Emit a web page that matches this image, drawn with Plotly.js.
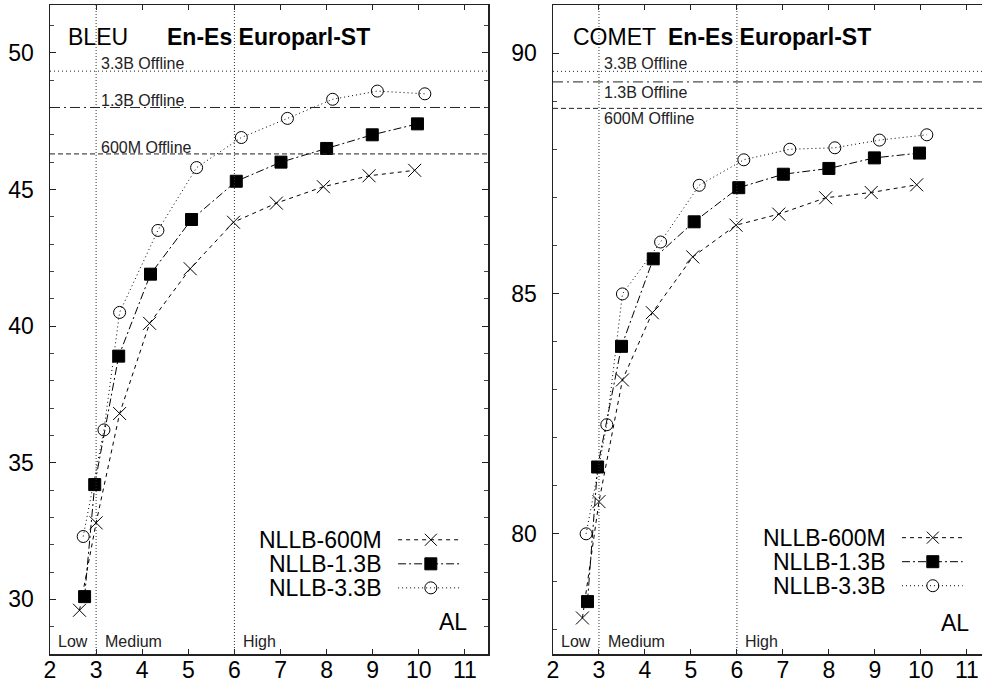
<!DOCTYPE html>
<html>
<head>
<meta charset="utf-8">
<script src="https://cdn.plot.ly/plotly-3.0.1.min.js"></script>
<style>html,body{margin:0;padding:0;background:#fff;}#chart{width:982px;height:693px;}</style>
</head>
<body>
<div id="chart"></div>
<script>
// ---------- data ----------
const seriesNames = ['NLLB-600M', 'NLLB-1.3B', 'NLLB-3.3B'];
// AL (average lagging) per model
const al600 = [2.64, 3.0, 3.51, 4.16, 5.04, 5.98, 6.91, 7.93, 8.92, 9.91];
const al13  = [2.75, 2.97, 3.49, 4.18, 5.07, 6.04, 7.01, 8.0, 8.99, 9.97];
const al33  = [2.72, 3.17, 3.51, 4.34, 5.18, 6.15, 7.15, 8.13, 9.1, 10.13];
// BLEU
const bleu600 = [29.6, 32.8, 36.8, 40.1, 42.1, 43.8, 44.5, 45.1, 45.5, 45.7];
const bleu13  = [30.1, 34.2, 38.9, 41.9, 43.9, 45.3, 46.0, 46.5, 47.0, 47.4];
const bleu33  = [32.3, 36.2, 40.5, 43.5, 45.8, 46.9, 47.6, 48.3, 48.6, 48.5];
// COMET
const comet600 = [78.25, 80.67, 83.2, 84.6, 85.76, 86.42, 86.65, 86.99, 87.1, 87.26];
const comet13  = [78.59, 81.39, 83.9, 85.72, 86.49, 87.2, 87.48, 87.6, 87.82, 87.92];
const comet33  = [80.0, 82.27, 84.99, 86.07, 87.25, 87.78, 88.0, 88.03, 88.19, 88.3];
// Offline references [600M, 1.3B, 3.3B]
const offlineLabels = ['600M Offline', '1.3B Offline', '3.3B Offline'];
const bleuOffline  = [46.3, 48.0, 49.33];
const cometOffline = [88.85, 89.4, 89.62];
// latency regimes
const regimeBounds = [3, 6];
const regimeLabels = ['Low', 'Medium', 'High'];
const xTicks = [2, 3, 4, 5, 6, 7, 8, 9, 10, 11];
const bleuTicks = [30, 35, 40, 45, 50];
const cometTicks = [80, 85, 90];

// ---------- styles ----------
const FONT = 'Liberation Sans, Arial, Helvetica, sans-serif';
const BIG = 23, SMALL = 16;
const dashes = ['4px,4px', '8px,3px,2px,3px', '1px,3px'];
const offDashes = ['5px,3px', '10px,4px,2px,4px', '1px,3px'];
const markerSyms = ['x-thin-open', 'square', 'circle-open'];
const markerSizes = [13, 12, 12];

function seriesTraces(xs, ys, xa, ya) {
  return ys.map((y, i) => ({
    type: 'scatter', mode: 'lines+markers', name: seriesNames[i],
    x: xs[i], y: y, xaxis: xa, yaxis: ya, showlegend: false, cliponaxis: false,
    line: {color: '#000', width: 1, dash: dashes[i]},
    marker: {symbol: markerSyms[i], size: markerSizes[i], color: '#000',
             line: {color: '#000', width: 1}}
  }));
}

const traces = [].concat(
  seriesTraces([al600, al13, al33], [bleu600, bleu13, bleu33], 'x', 'y'),
  seriesTraces([al600, al13, al33], [comet600, comet13, comet33], 'x2', 'y2')
);

function axisX(domain, range, anchor) {
  return {
    domain: domain, range: range, anchor: anchor,
    tickvals: xTicks, ticks: 'inside', ticklen: 5, tickwidth: 1, tickcolor: '#222',
    showline: true, linecolor: '#222', linewidth: 1.5, mirror: 'ticks',
    showgrid: false, zeroline: false, ticklabelstandoff: -5,
    tickfont: {family: FONT, size: BIG, color: '#000'}
  };
}
function axisY(range, tickvals, anchor, mirror) {
  return {
    range: range, anchor: anchor, tickvals: tickvals,
    ticks: 'inside', ticklen: 6, tickwidth: 1, tickcolor: '#222',
    minor: {dtick: 1, ticks: 'inside', ticklen: 4, tickwidth: 1, tickcolor: '#444', showgrid: false},
    showline: true, linecolor: '#222', linewidth: 1.5, mirror: mirror,
    showgrid: false, zeroline: false, ticklabelstandoff: 10,
    tickfont: {family: FONT, size: BIG, color: '#000'}
  };
}

const shapes = [];
const annotations = [];

function panelDecor(xa, ya, offline, legendX, legendY, textX, metric, titleX, titleBoldX, titleY,
                    offLabelX, offLabelY, regimeX, regimeY, alX, alY) {
  const xr = xa;
  const yr = ya;
  // regime lines
  regimeBounds.forEach(b => shapes.push({type: 'line', xref: xr, yref: yr + ' domain',
    x0: b, x1: b, y0: 0, y1: 1, line: {color: '#333', width: 1, dash: '1px,2px'}}));
  // offline lines
  offline.forEach((v, i) => shapes.push({type: 'line', xref: xr + ' domain', yref: yr,
    x0: 0, x1: 1, y0: v, y1: v, line: {color: '#222', width: 1, dash: offDashes[i]}}));
  offlineLabels.forEach((t, i) => annotations.push({xref: xr, yref: yr, x: offLabelX, y: offLabelY[i],
    text: t, showarrow: false, xanchor: 'left', yanchor: 'middle', height: 16,
    font: {family: FONT, size: SMALL, color: '#222'}}));
  // title
  annotations.push({xref: xr, yref: yr, x: titleX, y: titleY, text: metric, showarrow: false,
    xanchor: 'left', yanchor: 'middle', font: {family: FONT, size: BIG, color: '#000'}});
  annotations.push({xref: xr, yref: yr, x: titleBoldX, y: titleY, text: '<b>En-Es Europarl-ST</b>',
    showarrow: false, xanchor: 'left', yanchor: 'middle', font: {family: FONT, size: BIG, color: '#000'}});
  // regimes
  regimeLabels.forEach((t, i) => annotations.push({xref: xr, yref: yr, x: regimeX[i], y: regimeY,
    text: t, showarrow: false, xanchor: 'left', yanchor: 'middle',
    font: {family: FONT, size: SMALL, color: '#222'}}));
  // AL
  annotations.push({xref: xr, yref: yr, x: alX, y: alY, text: 'AL', showarrow: false,
    xanchor: 'right', yanchor: 'middle', font: {family: FONT, size: BIG, color: '#000'}});
  // legend
  seriesNames.forEach((n, i) => {
    const ly = legendY[i];
    annotations.push({xref: xr, yref: yr, x: textX, y: ly, text: n, showarrow: false,
      xanchor: 'right', yanchor: 'middle', height: 22, borderpad: 0,
      font: {family: FONT, size: BIG, color: '#000'}});
    shapes.push({type: 'line', xref: xr, yref: yr, x0: legendX[0], x1: legendX[2], y0: ly, y1: ly,
      line: {color: '#000', width: 1, dash: dashes[i]}});
    const base = {xref: xr, yref: yr, xsizemode: 'pixel', ysizemode: 'pixel',
                  xanchor: legendX[1], yanchor: ly};
    if (i === 0) {
      shapes.push(Object.assign({type: 'line', x0: -6, x1: 6, y0: -6, y1: 6, line: {color: '#000', width: 1}}, base));
      shapes.push(Object.assign({type: 'line', x0: -6, x1: 6, y0: 6, y1: -6, line: {color: '#000', width: 1}}, base));
    } else if (i === 1) {
      shapes.push(Object.assign({type: 'rect', x0: -6, x1: 6, y0: -6, y1: 6, fillcolor: '#000',
        line: {color: '#000', width: 1}}, base));
    } else {
      shapes.push(Object.assign({type: 'circle', x0: -6, x1: 6, y0: -6, y1: 6, fillcolor: 'rgba(0,0,0,0)',
        line: {color: '#000', width: 1}}, base));
    }
  });
}

panelDecor('x', 'y', bleuOffline, [9.55, 10.26, 10.94], [32.18, 31.30, 30.42], 9.22,
  'BLEU', 2.35, 4.5, 50.58, 3.06, [46.57, 48.28, 49.64], [2.13, 3.15, 6.14], 28.46, 11.09, 29.16);
panelDecor('x2', 'y2', cometOffline, [9.59, 10.26, 10.91], [79.92, 79.42, 78.92], 9.26,
  'COMET', 2.39, 4.46, 90.33, 3.07, [88.65, 89.19, 89.79], [2.13, 3.15, 6.14], 77.75, 11.09, 78.15);

const layout = {
  width: 982, height: 693, autosize: false,
  margin: {l: 50, r: 0, t: 5, b: 39},
  paper_bgcolor: '#fff', plot_bgcolor: '#fff',
  showlegend: false,
  xaxis: axisX([0, 0.46996], [2, 11.5], 'y'),
  yaxis: axisY([28, 51.75], bleuTicks, 'x', 'ticks'),
  xaxis2: axisX([0.5397, 1], [2, 11.33], 'y2'),
  yaxis2: axisY([77.5, 91], cometTicks, 'x2', false),
  shapes: shapes, annotations: annotations
};

Plotly.newPlot('chart', traces, layout, {staticPlot: true, displayModeBar: false});
</script>
</body>
</html>
